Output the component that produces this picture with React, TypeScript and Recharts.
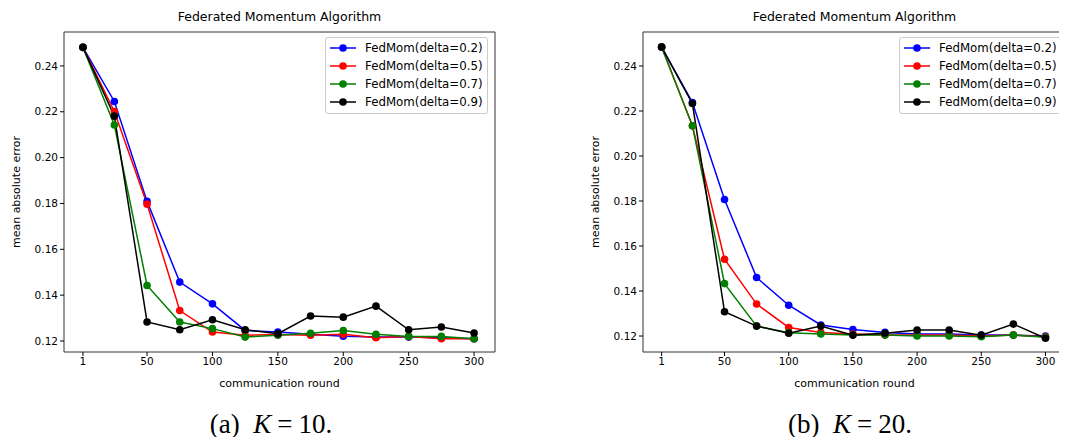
import { Line, LineChart, ReferenceArea, XAxis, YAxis } from 'recharts';

const rounds = [1, 25, 50, 75, 100, 125, 150, 175, 200, 225, 250, 275, 300];
const xTicks = [1, 50, 100, 150, 200, 250, 300];
const yTicks = [0.12, 0.14, 0.16, 0.18, 0.2, 0.22, 0.24];

const seriesNames = ['FedMom(delta=0.2)', 'FedMom(delta=0.5)', 'FedMom(delta=0.7)', 'FedMom(delta=0.9)'];
const seriesColors = ['#0000ff', '#ff0000', '#008000', '#000000'];

// K = 10
const k10d02 = [0.2481, 0.2245, 0.1809, 0.1457, 0.1362, 0.1246, 0.1239, 0.1229, 0.1221, 0.1217, 0.1217, 0.1214, 0.121];
const k10d05 = [0.2481, 0.2201, 0.1797, 0.1333, 0.1239, 0.1225, 0.1228, 0.1225, 0.1229, 0.1214, 0.122, 0.121, 0.121];
const k10d07 = [0.2481, 0.2142, 0.1442, 0.1283, 0.1254, 0.1217, 0.1225, 0.1234, 0.1246, 0.1229, 0.122, 0.122, 0.121];
const k10d09 = [0.2481, 0.2181, 0.1283, 0.1249, 0.1293, 0.1249, 0.1232, 0.1309, 0.1304, 0.1352, 0.1249, 0.1261, 0.1235];

// K = 20
const k20d02 = [0.2484, 0.2238, 0.1807, 0.146, 0.1337, 0.1249, 0.1229, 0.1216, 0.1209, 0.1209, 0.1204, 0.1204, 0.12];
const k20d05 = [0.2484, 0.2134, 0.1541, 0.1342, 0.1238, 0.1216, 0.1209, 0.1204, 0.1204, 0.1204, 0.12, 0.1204, 0.1197];
const k20d07 = [0.2484, 0.2134, 0.1433, 0.1244, 0.1215, 0.1209, 0.1204, 0.1204, 0.12, 0.12, 0.1197, 0.1204, 0.1194];
const k20d09 = [0.2484, 0.2233, 0.1308, 0.1244, 0.1212, 0.1244, 0.1204, 0.1212, 0.1227, 0.1227, 0.1204, 0.1253, 0.119];

const FONT = '"DejaVu Sans", sans-serif';
const keys = ['d02', 'd05', 'd07', 'd09'];

function buildRows(series: number[][]) {
  return rounds.map((r, i) => {
    const row: Record<string, number> = { round: r };
    keys.forEach((k, j) => (row[k] = series[j][i]));
    return row;
  });
}

function LegendBox({ left }: { left: number }) {
  return (
    <div
      style={{
        position: 'absolute',
        top: 37,
        left,
        border: '1px solid #cccccc',
        borderRadius: 3,
        background: 'rgba(255,255,255,0.8)',
        padding: '1px 4px 2px 3px',
        fontFamily: FONT,
        fontSize: 11.8,
        lineHeight: '18px',
        color: '#000',
      }}
    >
      {seriesNames.map((name, i) => (
        <div key={name} style={{ display: 'flex', alignItems: 'center', whiteSpace: 'nowrap' }}>
          <svg width={28} height={10} style={{ marginRight: 8 }}>
            <line x1={1} y1={5} x2={27} y2={5} stroke={seriesColors[i]} strokeWidth={1.5} />
            <circle cx={14} cy={5} r={3.8} fill={seriesColors[i]} />
          </svg>
          <span>{name}</span>
        </div>
      ))}
    </div>
  );
}

function Panel({
  series,
  left,
  width,
  rightMargin,
  yDomain,
  legendLeft,
}: {
  series: number[][];
  left: number;
  width: number;
  rightMargin: number;
  yDomain: [number, number];
  legendLeft: number;
}) {
  const data = buildRows(series);
  const xDomain: [number, number] = [-13.5, 316];
  return (
    <div style={{ position: 'absolute', left, top: 0, width, height: 395 }}>
      <LineChart width={width} height={395} data={data} margin={{ top: 32, right: rightMargin, left: 0, bottom: 0 }}>
        <XAxis
          dataKey="round"
          type="number"
          domain={xDomain}
          ticks={xTicks}
          allowDataOverflow
          height={43}
          axisLine={false}
          tickLine={{ stroke: '#000' }}
          tickSize={4}
          tick={{ fontSize: 10.5, fill: '#000', fontFamily: FONT }}
          label={{ value: 'communication round', position: 'insideBottom', offset: 8, fontSize: 11, fill: '#000', fontFamily: FONT }}
        />
        <YAxis
          type="number"
          domain={yDomain}
          ticks={yTicks}
          allowDataOverflow
          width={64}
          axisLine={false}
          tickLine={{ stroke: '#000' }}
          tickSize={4}
          tickFormatter={(v: number) => v.toFixed(2)}
          tick={{ fontSize: 10.5, fill: '#000', fontFamily: FONT }}
          label={{
            value: 'mean absolute error',
            angle: -90,
            position: 'insideLeft',
            offset: 16,
            style: { textAnchor: 'middle' },
            fontSize: 11,
            fill: '#000',
            fontFamily: FONT,
          }}
        />
        <ReferenceArea
          x1={xDomain[0]}
          x2={xDomain[1]}
          y1={yDomain[0]}
          y2={yDomain[1]}
          fill="none"
          stroke="#333"
          strokeWidth={1}
          ifOverflow="visible"
        />
        {keys.map((k, i) => (
          <Line
            key={k}
            dataKey={k}
            name={seriesNames[i]}
            type="linear"
            stroke={seriesColors[i]}
            strokeWidth={1.5}
            dot={{ r: 3.8, fill: seriesColors[i], stroke: seriesColors[i], strokeWidth: 0 }}
            activeDot={false}
            isAnimationActive={false}
          />
        ))}
      </LineChart>
      <LegendBox left={legendLeft} />
      <div
        style={{
          position: 'absolute',
          top: 9,
          left: 64,
          right: rightMargin,
          textAlign: 'center',
          fontFamily: FONT,
          fontSize: 12.5,
          color: '#000',
        }}
      >
        Federated Momentum Algorithm
      </div>
    </div>
  );
}

function Caption({ label, k, center }: { label: string; k: string; center: number }) {
  return (
    <div
      style={{
        position: 'absolute',
        top: 409,
        left: center - 120,
        width: 240,
        textAlign: 'center',
        fontFamily: '"Liberation Serif", "DejaVu Serif", serif',
        fontSize: 27,
        color: '#000',
        whiteSpace: 'nowrap',
      }}
    >
      ({label})&nbsp;&nbsp;<i>K</i>
      <span style={{ margin: '0 6px' }}>=</span>
      {k}.
    </div>
  );
}

export default function App() {
  return (
    <div style={{ position: 'relative', width: 1067, height: 445, background: '#fff', margin: -8, overflow: 'hidden' }}>
      <Panel series={[k10d02, k10d05, k10d07, k10d09]} left={0} width={510} rightMargin={15} yDomain={[0.1152, 0.2548]} legendLeft={325} />
      <Panel series={[k20d02, k20d05, k20d07, k20d09]} left={579} width={488} rightMargin={1} yDomain={[0.1129, 0.2551]} legendLeft={320} />
      <Caption label="a" k="10" center={271} />
      <Caption label="b" k="20" center={850} />
    </div>
  );
}
